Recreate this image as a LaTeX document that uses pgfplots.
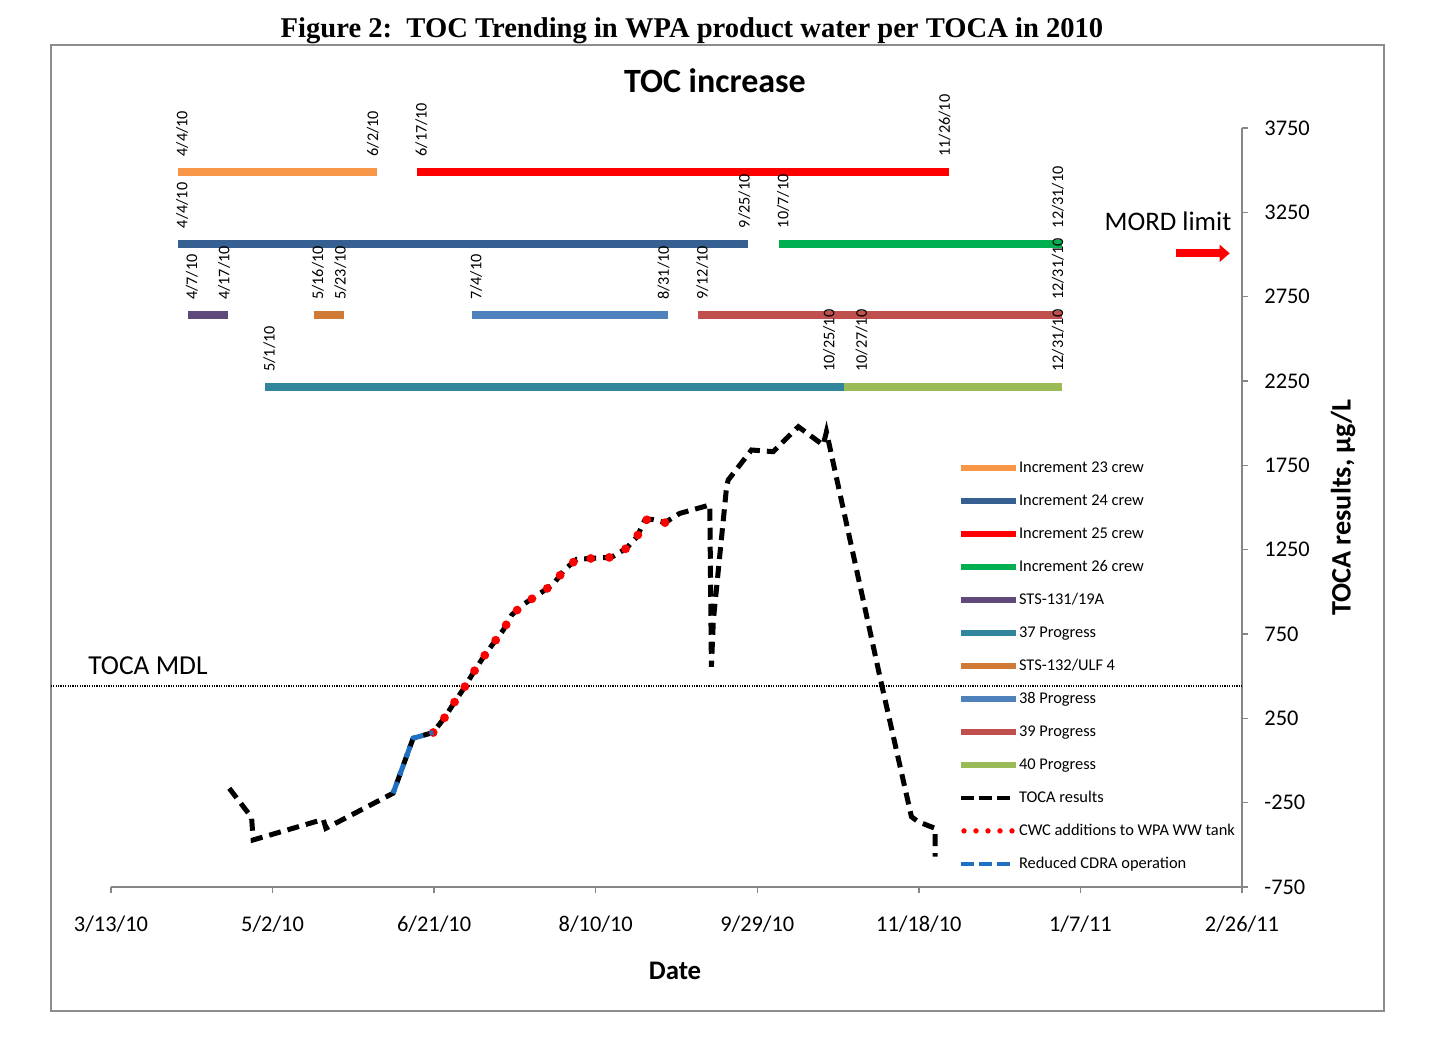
\documentclass[border=0pt]{standalone}
\usepackage{fontspec}
\setmainfont{Carlito}
\newfontfamily\seriffont{Liberation Serif}
\usepackage{pgfplots}
\pgfplotsset{compat=1.18}
\usetikzlibrary{arrows.meta}

\definecolor{c23}{HTML}{F79646}
\definecolor{c24}{HTML}{376092}
\definecolor{c25}{HTML}{FF0000}
\definecolor{c26}{HTML}{00B050}
\definecolor{c131}{HTML}{604A7B}
\definecolor{c37}{HTML}{31859C}
\definecolor{c132}{HTML}{D07A35}
\definecolor{c38}{HTML}{4F81BD}
\definecolor{c39}{HTML}{C0504D}
\definecolor{c40}{HTML}{9BBB59}
\definecolor{cdra}{HTML}{1F70C0}
\definecolor{axisgray}{HTML}{868686}
\definecolor{framegray}{HTML}{8C8C8C}

\pgfplotsset{
  barline/.style={line width=4pt, line cap=rect,
    legend image code/.code={\draw[##1, line width=3pt, line cap=butt] (0pt,0pt) -- (27.5pt,0pt);}},
  tocaline/.style={black, line width=2.5pt, dash pattern=on 6pt off 3.5pt,
    legend image code/.code={\draw[##1, line width=2pt, dash pattern=on 6.5pt off 2.5pt] (0pt,0pt) -- (24.5pt,0pt);}},
  cdraline/.style={cdra, line width=2.5pt, dash pattern=on 6pt off 3.5pt,
    legend image code/.code={\draw[##1, line width=2pt, dash pattern=on 6.5pt off 2.5pt] (0pt,0pt) -- (24.5pt,0pt);}},
  cwcline/.style={red, line width=4.4pt, line cap=round, dash pattern=on 0pt off 9.3pt,
    legend image code/.code={\draw[##1, line width=2.7pt, dash pattern=on 0pt off 6pt] (1.5pt,0pt) -- (27pt,0pt);}},
}
\tikzset{datelbl/.style={rotate=90, anchor=west, inner sep=0pt, font=\fontsize{8.1}{9}\selectfont}}

\begin{document}
\begin{tikzpicture}
\path[use as bounding box] (0pt,0pt) rectangle (728pt,522.5pt);
\draw[framegray, line width=1pt] (25.5pt,17pt) rectangle (692pt,500pt);
\node[anchor=base, inner sep=0pt, font=\seriffont\bfseries\fontsize{14.3}{16}\selectfont] at (346pt,503.5pt) {Figure 2:\ \ TOC Trending in WPA product water per TOCA in 2010};
\node[anchor=base, inner sep=0pt, font=\bfseries\fontsize{17}{20}\selectfont] at (357.5pt,476pt) {TOC increase};
\node[anchor=base, inner sep=0pt, font=\fontsize{13.7}{16}\selectfont] at (74pt,185.5pt) {TOCA MDL};
\node[anchor=base, inner sep=0pt, font=\fontsize{13.4}{16}\selectfont] at (584pt,407.25pt) {MORD limit};

\begin{axis}[
  at={(55.5pt,79pt)}, anchor=south west,
  scale only axis, width=565.5pt, height=379.5pt,
  xmin=0, xmax=350, ymin=-750, ymax=3750,
  axis x line=bottom, axis y line=right,
  axis line style={-, draw=axisgray, line width=0.75pt},
  tick style={draw=axisgray, line width=0.75pt},
  tick align=outside, major tick length=3pt,
  hide obscured x ticks=false, hide obscured y ticks=false,
  xtick={0,50,100,150,200,250,300,350},
  xticklabels={3/13/10,5/2/10,6/21/10,8/10/10,9/29/10,11/18/10,1/7/11,2/26/11},
  ytick={-750,-250,250,750,1250,1750,2250,2750,3250,3750},
  yticklabels={-750,-250,250,750,1250,1750,2250,2750,3250,3750},
  ticklabel style={font=\fontsize{11.2}{13}\selectfont},
  xticklabel style={anchor=north, inner sep=0pt, yshift=-11.2pt},
  yticklabel style={anchor=west, inner sep=0pt, xshift=8pt},
  xlabel={Date},
  xlabel style={at={(axis description cs:0.4987,0)}, anchor=base, inner sep=0pt, yshift=-46.3pt, font=\bfseries\fontsize{13.4}{16}\selectfont},
  ylabel={TOCA results, µg/L},
  ylabel style={at={(axis description cs:1.0893,0.5)}, anchor=center, inner sep=0pt, font=\bfseries\fontsize{14.1}{16}\selectfont},
  clip=false,
  legend style={at={(0.7489,0.5621)}, anchor=north west, draw=none, fill=none,
    inner sep=0pt, outer sep=0pt, row sep=9pt, column sep=0pt,
    font=\fontsize{8.2}{10}\selectfont,
    nodes={inner sep=0pt, text height=6pt, text depth=1.5pt}},
  legend cell align=left,
]
% bars
\addplot[barline, c23] coordinates {(22,3490) (81,3490)};
\addlegendentry{Increment 23 crew}
\addplot[barline, c24] coordinates {(22,3065) (196,3065)};
\addlegendentry{Increment 24 crew}
\addplot[barline, c25] coordinates {(96,3490) (258,3490)};
\addlegendentry{Increment 25 crew}
\addplot[barline, c26] coordinates {(208,3065) (293,3065)};
\addlegendentry{Increment 26 crew}
\addplot[barline, c131] coordinates {(25,2640) (35,2640)};
\addlegendentry{STS-131/19A}
\addplot[barline, c37] coordinates {(49,2215) (226,2215)};
\addlegendentry{37 Progress}
\addplot[barline, c132] coordinates {(64,2640) (71,2640)};
\addlegendentry{STS-132/ULF 4}
\addplot[barline, c38] coordinates {(113,2640) (171,2640)};
\addlegendentry{38 Progress}
\addplot[barline, c39] coordinates {(183,2640) (293,2640)};
\addlegendentry{39 Progress}
\addplot[barline, c40] coordinates {(228,2215) (293,2215)};
\addlegendentry{40 Progress}

% MDL reference line
\addplot[forget plot, black, line width=0.6pt, dash pattern=on 0.6pt off 0.6pt] coordinates {(-18.6,442) (350,442)};

% TOCA results
\addplot[tocaline] coordinates {
(36.6,-165) (43.5,-337) (44.0,-471) (65.7,-349) (66.5,-402) (87.3,-194)
(93.5,132) (99.7,166) (103.3,256) (106.4,349) (109.2,428) (112.1,520)
(115.0,606) (118.1,689) (121.4,774) (124.0,863) (127.8,928) (132.5,987)
(136.9,1046) (140.2,1129) (144.1,1193) (149.5,1199) (154.9,1205) (159.5,1258)
(162.8,1327) (165.2,1426) (167.3,1430) (171.4,1410) (176.0,1465) (185.3,1515)
(185.8,556) (186.4,830) (190.5,1623) (191.0,1663) (198.2,1841) (204.9,1831)
(212.7,1979) (220.4,1870) (221.4,1949) (238.5,448) (247.7,-333) (249.8,-363)
(255.0,-402) (255.0,-570)
};
\addlegendentry{TOCA results}

% CWC additions
\addplot[cwcline] coordinates {
(99.7,166) (103.3,256) (106.4,349) (109.2,428) (112.1,520)
(115.0,606) (118.1,689) (121.4,774) (124.0,863) (127.8,928) (132.5,987)
(136.9,1046) (140.2,1129) (144.1,1193) (149.5,1199) (154.9,1205) (159.5,1258)
(162.8,1327) (165.2,1426) (167.3,1430) (171.4,1410) (176.0,1465)
};
\addlegendentry{CWC additions to WPA WW tank}

% Reduced CDRA
\addplot[cdraline] coordinates {(87.3,-194) (93.5,132) (99.7,166)};
\addlegendentry{Reduced CDRA operation}

% MORD limit arrow
\addplot[forget plot, red, line width=4pt, -{Triangle[width=8.3pt,length=5pt]}] coordinates {(329.7,3007) (346.2,3007)};

% date labels
\node[datelbl] at (axis cs:22,3579) {4/4/10};
\node[datelbl] at (axis cs:81,3579) {6/2/10};
\node[datelbl] at (axis cs:96,3579) {6/17/10};
\node[datelbl] at (axis cs:258,3579) {11/26/10};
\node[datelbl] at (axis cs:22,3154) {4/4/10};
\node[datelbl] at (axis cs:196,3154) {9/25/10};
\node[datelbl] at (axis cs:208,3154) {10/7/10};
\node[datelbl] at (axis cs:293,3154) {12/31/10};
\node[datelbl] at (axis cs:25,2729) {4/7/10};
\node[datelbl] at (axis cs:35,2729) {4/17/10};
\node[datelbl] at (axis cs:64,2729) {5/16/10};
\node[datelbl] at (axis cs:71,2729) {5/23/10};
\node[datelbl] at (axis cs:113,2729) {7/4/10};
\node[datelbl] at (axis cs:171,2729) {8/31/10};
\node[datelbl] at (axis cs:183,2729) {9/12/10};
\node[datelbl] at (axis cs:293,2729) {12/31/10};
\node[datelbl] at (axis cs:49,2304) {5/1/10};
\node[datelbl] at (axis cs:222.2,2304) {10/25/10};
\node[datelbl] at (axis cs:232.3,2304) {10/27/10};
\node[datelbl] at (axis cs:293,2304) {12/31/10};
\end{axis}
\end{tikzpicture}
\end{document}
